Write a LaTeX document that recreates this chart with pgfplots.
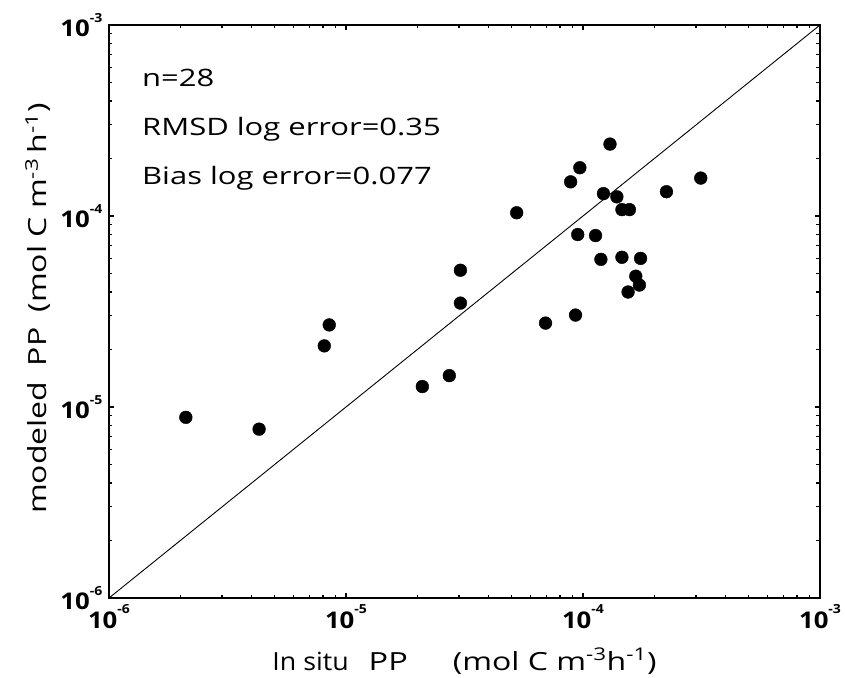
\documentclass[border=0pt]{standalone}
\usepackage{fontspec}
\setmainfont{Open Sans}
\usepackage{graphicx}
\usepackage{pgfplots}
\pgfplotsset{compat=1.18}
\newcommand{\tl}[1]{\scalebox{1.12}[1]{\bfseries 10\raisebox{14.5pt}{\fontsize{12.5}{14}\selectfont\bfseries #1}}}
\newcommand{\annot}[1]{\scalebox{1.29}[1]{#1}}
\tikzset{xtl/.style={anchor=north, inner sep=6.5pt, font=\fontsize{23}{25}\selectfont},
         ytl/.style={anchor=east, inner sep=6.5pt, font=\fontsize{23}{25}\selectfont}}
\begin{document}
\begin{tikzpicture}
\begin{axis}[
  scale only axis,
  width=711pt, height=573pt,
  xmode=log, ymode=log,
  xmin=1e-6, xmax=1e-3, ymin=1e-6, ymax=1e-3,
  axis line style={line width=1.6pt},
  tick style={line width=1.2pt, black},
  major tick length=5pt, minor tick length=3.5pt,
  tick align=inside,
  xtick={1e-6,1e-5,1e-4,1e-3},
  ytick={1e-6,1e-5,1e-4,1e-3},
  xticklabels={}, yticklabels={},
  xlabel={\scalebox{1.07}[1]{In situ}\hspace{20pt}\scalebox{1.3}[1]{PP}\hspace{45pt}\scalebox{1.28}[1]{(mol C m\textsuperscript{-3}h\textsuperscript{-1})}},
  ylabel={\scalebox{1.28}[1]{modeled\hspace{12pt}PP\hspace{12pt}(mol C m\textsuperscript{-3}\,h\textsuperscript{-1})}},
  xlabel style={font=\fontsize{25}{28}\selectfont, at={([yshift=-72pt]axis description cs:0.5,0)}, anchor=base, inner sep=0pt},
  ylabel style={font=\fontsize{25}{28}\selectfont, at={([xshift=-62pt]axis description cs:0,0.505)}, rotate=0, anchor=base, inner sep=0pt},
  clip=false,
]
\addplot[black, line width=0.9pt, no marks] coordinates {(1e-6,1e-6) (1e-3,1e-3)};
\addplot[only marks, mark=*, mark size=6.4pt, black] coordinates {
(2.11e-6,8.83e-6)
(4.30e-6,7.66e-6)
(8.10e-6,2.09e-5)
(8.50e-6,2.69e-5)
(2.10e-5,1.28e-5)
(2.73e-5,1.46e-5)
(3.04e-5,5.20e-5)
(3.04e-5,3.50e-5)
(5.25e-5,1.04e-4)
(6.95e-5,2.75e-5)
(8.87e-5,1.51e-4)
(9.70e-5,1.79e-4)
(9.30e-5,3.03e-5)
(9.50e-5,8.00e-5)
(1.13e-4,7.90e-5)
(1.30e-4,2.38e-4)
(1.19e-4,5.93e-5)
(1.22e-4,1.31e-4)
(1.39e-4,1.26e-4)
(1.46e-4,1.08e-4)
(1.57e-4,1.08e-4)
(1.46e-4,6.08e-5)
(1.75e-4,6.00e-5)
(1.67e-4,4.84e-5)
(1.73e-4,4.35e-5)
(1.55e-4,4.00e-5)
(2.25e-4,1.34e-4)
(3.14e-4,1.58e-4)
};
\node[xtl] at (axis cs:1e-6,1e-6) {\tl{-6}};
\node[xtl] at (axis cs:1e-5,1e-6) {\tl{-5}};
\node[xtl] at (axis cs:1e-4,1e-6) {\tl{-4}};
\node[xtl] at (axis cs:1e-3,1e-6) {\tl{-3}};
\node[ytl] at (axis cs:1e-6,1e-6) {\tl{-6}};
\node[ytl] at (axis cs:1e-6,1e-5) {\tl{-5}};
\node[ytl] at (axis cs:1e-6,1e-4) {\tl{-4}};
\node[ytl] at (axis cs:1e-6,1e-3) {\tl{-3}};
\node[anchor=base west, inner sep=0pt, font=\fontsize{24}{26}\selectfont] at (rel axis cs:0.0464,0.8935) {\annot{n=28}};
\node[anchor=base west, inner sep=0pt, font=\fontsize{24}{26}\selectfont] at (rel axis cs:0.0464,0.8072) {\annot{RMSD log error=0.35}};
\node[anchor=base west, inner sep=0pt, font=\fontsize{24}{26}\selectfont] at (rel axis cs:0.0464,0.7208) {\annot{Bias log error=0.077}};
\end{axis}
\pgfresetboundingbox
\path ([shift={(-109pt,-79pt)}]current axis.south west) rectangle ([shift={(25pt,25pt)}]current axis.north east);
\end{tikzpicture}
\end{document}
